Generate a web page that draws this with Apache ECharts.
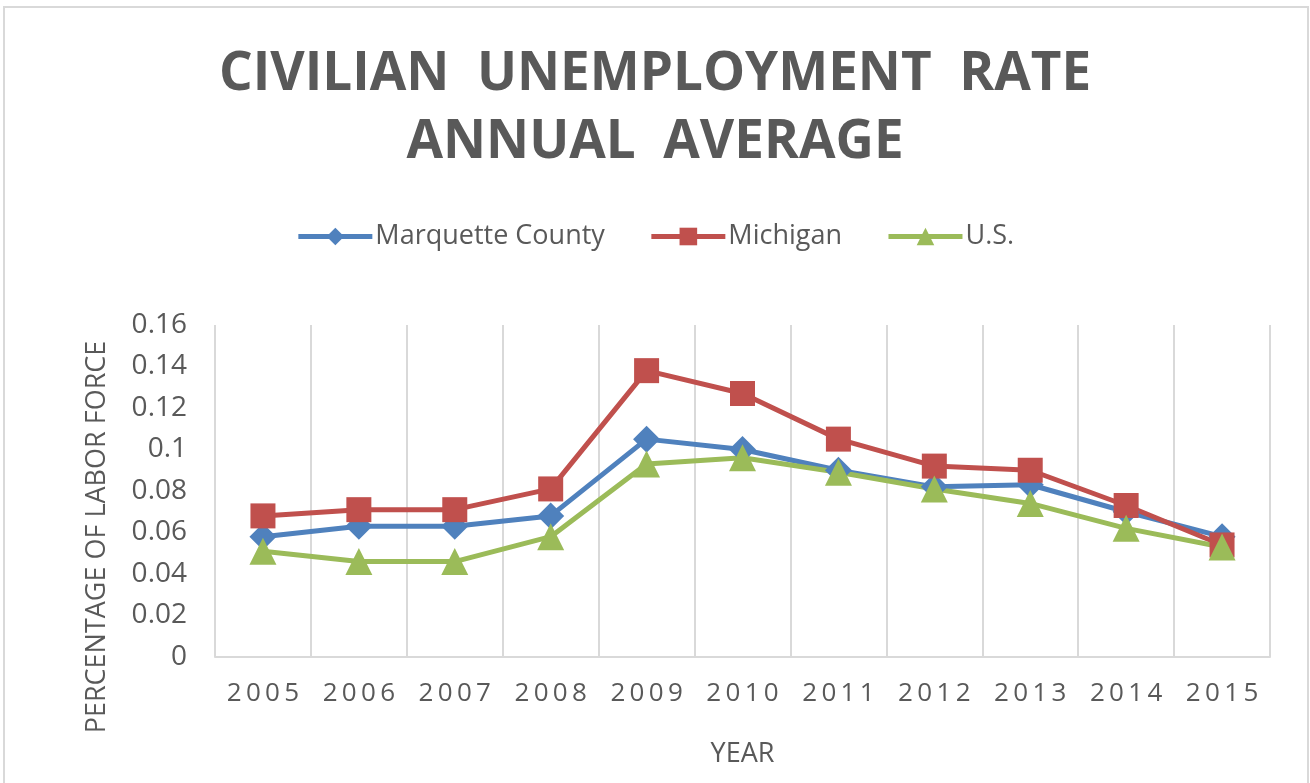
<!DOCTYPE html>
<html>
<head>
<meta charset="utf-8">
<script src="https://cdn.jsdelivr.net/npm/echarts@6/dist/echarts.min.js"></script>
<style>
  html, body { margin: 0; padding: 0; background: #fff; }
  #main { width: 1310px; height: 783px; }
</style>
</head>
<body>
<div id="main"></div>
<script>
// values
var years = ['2005','2006','2007','2008','2009','2010','2011','2012','2013','2014','2015'];
var marquette = [0.058, 0.063, 0.063, 0.068, 0.105, 0.100, 0.090, 0.082, 0.083, 0.070, 0.058];
var michigan  = [0.068, 0.071, 0.071, 0.081, 0.138, 0.127, 0.105, 0.092, 0.090, 0.073, 0.054];
var usa       = [0.051, 0.046, 0.046, 0.058, 0.093, 0.096, 0.089, 0.081, 0.074, 0.062, 0.053];
var seriesNames = ['Marquette County', 'Michigan', 'U.S.'];

var txt = '#595959';
var font = '"Open Sans", "Liberation Sans", sans-serif';

function spaced(s) {
  return s.split('').join('\u2009');
}

function lineSeries(name, data, color, symbol, size) {
  return {
    name: name,
    type: 'line',
    data: data,
    symbol: symbol,
    symbolSize: size,
    lineStyle: { width: 5, color: color },
    itemStyle: { color: color },
    emphasis: { disabled: true }
  };
}

var chart = echarts.init(document.getElementById('main'));
var option = {
  backgroundColor: '#fff',
  animation: false,
  title: {
    text: 'CIVILIAN  UNEMPLOYMENT  RATE\nANNUAL  AVERAGE',
    left: 'center',
    top: 36,
    textStyle: {
      fontFamily: font,
      fontSize: 53,
      fontWeight: 'bold',
      color: txt,
      lineHeight: 68
    }
  },
  legend: {
    top: 218,
    left: 'center',
    itemWidth: 74,
    itemHeight: 22,
    itemGap: 44,
    itemStyle: {},
    lineStyle: { width: 5 },
    textStyle: { fontFamily: font, fontSize: 27, color: txt, padding: [0, 0, 0, -2] },
    data: seriesNames
  },
  grid: { left: 215, right: 40, top: 325, bottom: 126, containLabel: false },
  xAxis: {
    type: 'category',
    data: years,
    boundaryGap: true,
    name: 'YEAR',
    nameLocation: 'middle',
    nameGap: 84,
    nameTextStyle: { fontFamily: font, fontSize: 27, color: txt },
    axisLine: { lineStyle: { color: '#d9d9d9', width: 2 } },
    axisTick: { show: false },
    axisLabel: {
      fontFamily: font, fontSize: 26, color: txt, margin: 24,
      formatter: function (v) { return spaced(v); }
    },
    splitLine: { show: true, lineStyle: { color: '#d9d9d9', width: 2 } }
  },
  yAxis: {
    type: 'value',
    min: 0,
    max: 0.16,
    interval: 0.02,
    name: 'PERCENTAGE OF LABOR FORCE',
    nameLocation: 'middle',
    nameGap: 104,
    nameRotate: 90,
    nameTextStyle: { fontFamily: font, fontSize: 27, color: txt, padding: [0, 0, 0, -92] },
    axisLine: { show: false },
    axisTick: { show: false },
    axisLabel: {
      fontFamily: font, fontSize: 28, color: txt, margin: 28,
      formatter: function (v) { return String(+v.toFixed(2)); }
    },
    splitLine: { show: false }
  },
  graphic: [{
    type: 'rect',
    shape: { x: 4, y: 7, width: 1304, height: 790 },
    style: { fill: 'none', stroke: '#d9d9d9', lineWidth: 2 },
    silent: true
  }],
  series: [
    lineSeries(seriesNames[0], marquette, '#4f81bd', 'diamond', 27),
    lineSeries(seriesNames[1], michigan, '#c0504d', 'rect', 25),
    lineSeries(seriesNames[2], usa, '#9bbb59', 'triangle', 27)
  ]
};
chart.setOption(option);
</script>
</body>
</html>
